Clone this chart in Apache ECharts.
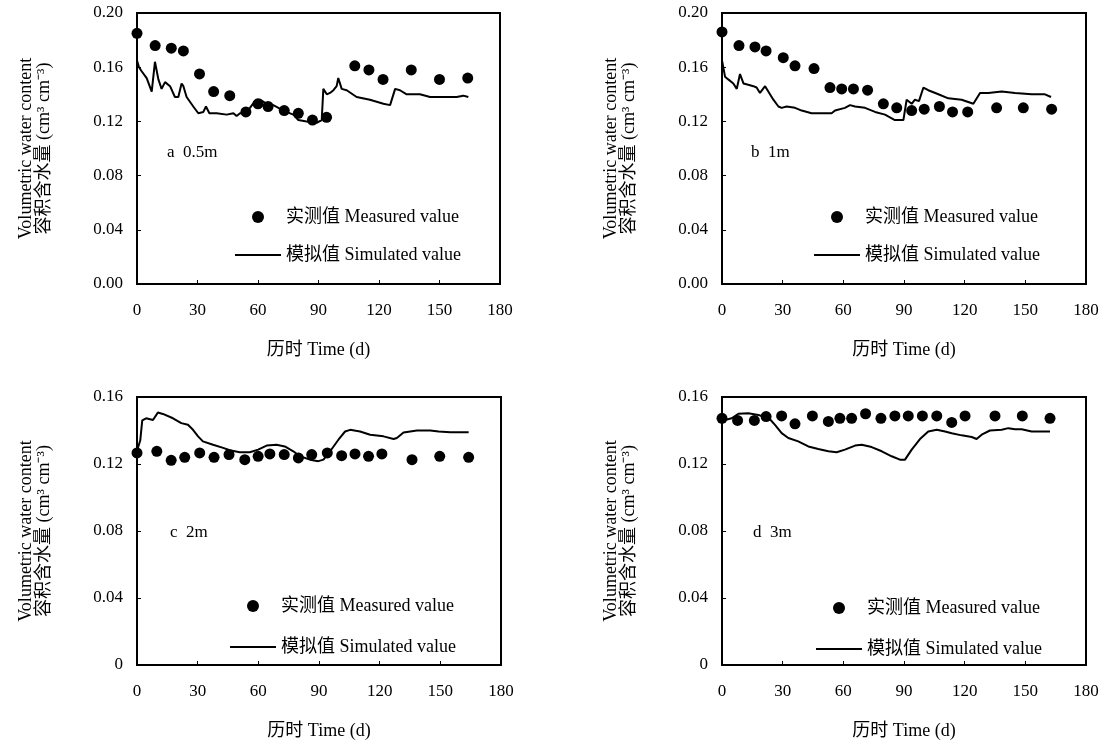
<!DOCTYPE html>
<html>
<head>
<meta charset="utf-8">
<script src="https://cdn.jsdelivr.net/npm/echarts@6/dist/echarts.min.js"></script>
<style>
html,body{margin:0;padding:0;background:#fff;}
#chart{width:1108px;height:741px;}
</style>
</head>
<body>
<div id="chart"></div>
<script>
// ---- tick labels ----
var xTickLabels = ['0','30','60','90','120','150','180'];
var yTickLabelsTop = ['0.00','0.04','0.08','0.12','0.16','0.20'];
var yTickLabelsBottom = ['0','0.04','0.08','0.12','0.16'];
var panelLabels = ['a  0.5m','b  1m','c  2m','d  3m'];
var measuredName = '实测值 Measured value';
var simulatedName = '模拟值 Simulated value';
var xAxisTitle = '历时 Time (d)';
var yAxisTitle = 'Volumetric water content\n容积含水量 (cm³ cm⁻³)';

// ---- panel a: 0.5 m ----
var aMeasDays = [0,9,17,23,31,38,46,54,60,65,73,80,87,94,108,115,122,136,150,164];
var aMeasVals = [0.185,0.176,0.174,0.172,0.155,0.142,0.139,0.127,0.133,0.131,0.128,0.126,0.121,0.123,0.161,0.158,0.151,0.158,0.151,0.152];
var aSimDays = [0,1,2.3,4.8,7.3,8.9,10.6,12.2,13.9,16.4,18.8,20.5,22.1,23,24.6,27.9,30.4,32.9,34.2,35.9,39.5,44.5,47.8,49.4,51.1,53.6,56,58.5,61,64.3,67.6,72.6,77.5,80,84.1,89.1,91.6,92.4,94.1,95.7,97.4,99,99.8,101.5,104,108.9,115.5,122.2,125.5,128,130.4,133.7,140.3,145.3,153.6,158.5,161.8,164.3];
var aSimVals = [0.165,0.160,0.157,0.152,0.142,0.164,0.151,0.144,0.149,0.146,0.138,0.138,0.148,0.146,0.138,0.131,0.126,0.127,0.131,0.126,0.126,0.125,0.126,0.124,0.126,0.126,0.130,0.135,0.136,0.133,0.132,0.128,0.125,0.121,0.120,0.119,0.121,0.144,0.140,0.141,0.143,0.146,0.152,0.144,0.143,0.138,0.136,0.133,0.132,0.144,0.143,0.140,0.140,0.138,0.138,0.138,0.139,0.138];

// ---- panel b: 1 m ----
var bMeasDays = [0,8.4,16.3,21.8,30.3,36.1,45.5,53.4,59.2,65,72,79.8,86.4,93.8,100,107.5,114,121.5,135.8,149,163];
var bMeasVals = [0.186,0.176,0.175,0.172,0.167,0.161,0.159,0.145,0.144,0.144,0.143,0.133,0.130,0.128,0.129,0.131,0.127,0.127,0.130,0.130,0.129];
var bSimDays = [0,1.5,3.1,5.6,7.3,8.9,10.6,13,15.5,17.1,18.8,21.3,22.9,25.4,27.9,29.5,32,36.1,39.4,44.3,49.3,54.2,55.9,60.8,63.3,65.8,70.7,75.7,80.6,85.5,89.7,91.3,93.8,95.4,97.4,99.6,102,107,111.9,118.5,124.3,127.6,131.7,138.3,144.9,153.1,159.7,162.7];
var bSimVals = [0.165,0.153,0.151,0.148,0.144,0.155,0.148,0.147,0.146,0.145,0.141,0.146,0.142,0.136,0.131,0.130,0.131,0.130,0.128,0.126,0.126,0.126,0.128,0.130,0.132,0.131,0.130,0.127,0.125,0.121,0.121,0.136,0.133,0.136,0.135,0.145,0.143,0.140,0.137,0.136,0.133,0.141,0.141,0.142,0.141,0.140,0.140,0.138];

// ---- panel c: 2 m ----
var cMeasDays = [0,9.8,16.9,23.6,31,38.1,45.5,53.3,59.9,65.7,72.8,79.8,86.4,94.1,101.2,107.8,114.5,121.1,136,149.7,164];
var cMeasVals = [0.1266,0.1276,0.1222,0.124,0.1266,0.124,0.1256,0.1226,0.1246,0.126,0.1256,0.1236,0.1256,0.1266,0.125,0.126,0.1246,0.126,0.1226,0.1246,0.124];
var cSimDays = [0,1.6,2.6,4.5,7.9,10.3,12.8,17.8,21.9,25.2,27.7,30.2,32.6,37.6,42.6,45.9,50.8,55.8,59.9,64.1,69,73.1,77.3,80.6,85.5,89.7,92.2,95.5,99.6,102.9,105.4,110.3,115.3,121.9,126.9,128.5,131.8,138.4,145,149.2,154.9,164];
var cSimVals = [0.128,0.134,0.146,0.1473,0.1463,0.1507,0.1499,0.1473,0.1444,0.1434,0.1404,0.1365,0.1335,0.1315,0.1296,0.1282,0.127,0.127,0.1286,0.131,0.1315,0.1305,0.1276,0.1246,0.1226,0.1217,0.1226,0.1276,0.1345,0.1394,0.1404,0.1394,0.1375,0.1365,0.1349,0.1355,0.1388,0.140,0.140,0.1394,0.139,0.139];

// ---- panel d: 3 m ----
var dMeasDays = [0,7.7,16,21.8,29.5,36.1,44.7,52.6,58.3,64.1,71,78.6,85.5,92.1,99.1,106.2,113.6,120.2,135,148.5,162.2];
var dMeasVals = [0.1473,0.146,0.146,0.1483,0.1487,0.144,0.1487,0.1454,0.1473,0.1473,0.150,0.1473,0.1487,0.1487,0.1487,0.1487,0.1448,0.1487,0.1487,0.1487,0.1473];
var dSimDays = [0,1.5,4.8,8.1,13,18,23.7,26.2,29.5,32.8,37.7,42.7,47.6,52.6,56.7,60.8,65.8,69.1,74,79,83.9,88,90.5,93.8,97.9,102,106.2,110.3,113.6,118.5,123.5,125.9,128.4,132.5,138.3,141.6,144.9,148.2,153.1,162.2];
var dSimVals = [0.1454,0.1463,0.1473,0.150,0.1503,0.1493,0.1467,0.1434,0.1384,0.1355,0.1335,0.1305,0.129,0.1276,0.127,0.1286,0.131,0.1315,0.1301,0.1276,0.1246,0.1226,0.1226,0.1286,0.1349,0.1394,0.1404,0.1394,0.1384,0.1371,0.1361,0.1349,0.1375,0.140,0.1404,0.1414,0.1408,0.1408,0.1394,0.1394];

function zip(xs, ys){ return xs.map(function(x,i){ return [x, ys[i]]; }); }

var FONT = '"Liberation Serif","Times New Roman","Noto Sans CJK SC",serif';

var grids = [
  {left:137, top:13, width:363, height:271},
  {left:722, top:13, width:364, height:271},
  {left:137, top:397, width:364, height:270},
  {left:722, top:397, width:364, height:270}
];
var yMax = [0.20, 0.20, 0.16, 0.16];
var yLabelSets = [yTickLabelsTop, yTickLabelsTop, yTickLabelsBottom, yTickLabelsBottom];
var measData = [zip(aMeasDays,aMeasVals), zip(bMeasDays,bMeasVals), zip(cMeasDays,cMeasVals), zip(dMeasDays,dMeasVals)];
var simData = [zip(aSimDays,aSimVals), zip(bSimDays,bSimVals), zip(cSimDays,cSimVals), zip(dSimDays,dSimVals)];
var legendPos = [{left:229, top:202, gap:18},{left:808, top:202, gap:18},{left:224, top:591, gap:21},{left:810, top:593, gap:21}];
var labelPos = [{left:162, top:139},{left:746, top:139},{left:165, top:519},{left:748, top:519}];

var option = {
  animation:false,
  backgroundColor:'#fff',
  textStyle:{fontFamily:FONT, color:'#000'},
  grid: grids.map(function(g){ return Object.assign({show:true, borderColor:'#000', borderWidth:2, backgroundColor:'transparent', containLabel:false}, g); }),
  title: panelLabels.map(function(t,i){
    return {text:t, left:labelPos[i].left, top:labelPos[i].top, textStyle:{fontFamily:FONT, fontSize:17, fontWeight:'normal', color:'#000'}};
  }),
  legend: legendPos.map(function(p){
    return {
      left:p.left, top:p.top, orient:'vertical', itemWidth:46, itemHeight:12, itemGap:p.gap,
      data:[
        {name:measuredName, icon:'circle', itemStyle:{color:'#000', opacity:1}},
        {name:simulatedName, itemStyle:{opacity:0}, lineStyle:{color:'#000', width:2}}
      ],
      selectedMode:false,
      textStyle:{fontFamily:FONT, fontSize:18, color:'#000', lineHeight:20}
    };
  }),
  xAxis: grids.map(function(g,i){
    return {
      type:'value', gridIndex:i, min:0, max:180, interval:30,
      name:xAxisTitle, nameLocation:'middle', nameGap:57,
      nameTextStyle:{fontFamily:FONT, fontSize:18, color:'#000'},
      axisLine:{show:true, lineStyle:{color:'#000', width:2}},
      axisTick:{show:true, inside:true, length:4, lineStyle:{color:'#000', width:1}},
      axisLabel:{fontFamily:FONT, fontSize:17, color:'#000', margin:18,
        formatter:function(v, idx){ return xTickLabels[idx]; }},
      splitLine:{show:false}
    };
  }),
  yAxis: grids.map(function(g,i){
    return {
      type:'value', gridIndex:i, min:0, max:yMax[i], interval:0.04,
      name:yAxisTitle, nameLocation:'middle', nameRotate:90, nameGap:84,
      nameTextStyle:{fontFamily:FONT, fontSize:18, color:'#000', lineHeight:18},
      axisLine:{show:true, lineStyle:{color:'#000', width:2}},
      axisTick:{show:true, inside:true, length:4, lineStyle:{color:'#000', width:1}},
      axisLabel:{fontFamily:FONT, fontSize:17, color:'#000', margin:14,
        formatter:function(v, idx){ return yLabelSets[i][idx]; }},
      splitLine:{show:false}
    };
  }),
  series: []
};

for (var i=0;i<4;i++){
  option.series.push({
    name:simulatedName, type:'line', xAxisIndex:i, yAxisIndex:i,
    data:simData[i], showSymbol:false, symbol:'none',
    lineStyle:{color:'#000', width:2}, itemStyle:{color:'#000'}, z:2
  });
  option.series.push({
    name:measuredName, type:'scatter', xAxisIndex:i, yAxisIndex:i,
    data:measData[i], symbol:'circle', symbolSize:11,
    itemStyle:{color:'#000', opacity:1}, z:3
  });
}

var chart = echarts.init(document.getElementById('chart'), null, {renderer:'canvas'});
chart.setOption(option);
</script>
</body>
</html>
